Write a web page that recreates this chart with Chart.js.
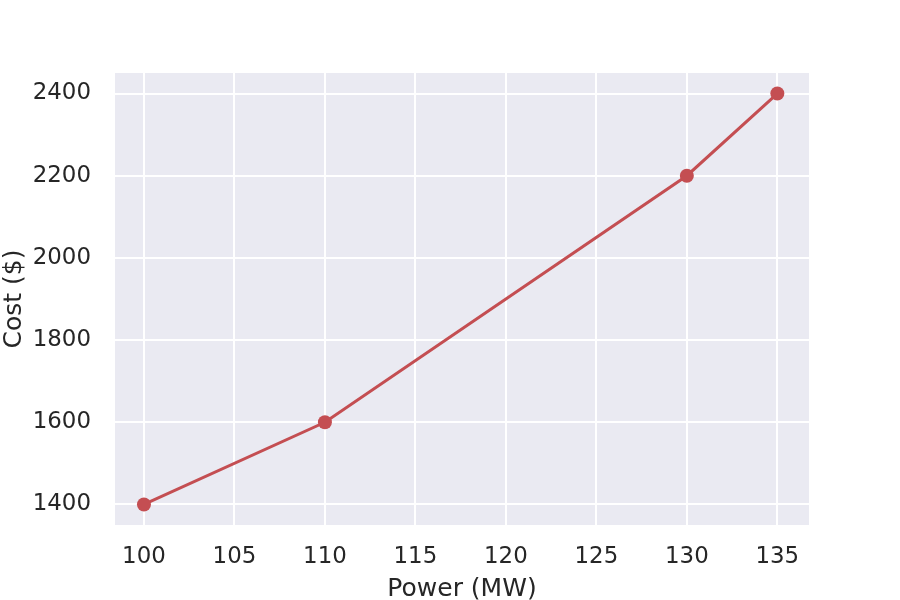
<!DOCTYPE html>
<html>
<head>
<meta charset="utf-8">
<script src="https://cdn.jsdelivr.net/npm/chart.js@4/dist/chart.umd.min.js"></script>
<style>
  body { margin: 0; background: #fff; }
  #chart { display: block; }
</style>
</head>
<body>
<canvas id="chart" width="900" height="600"></canvas>
<script>
// data
const power = [100, 110, 130, 135];
const cost = [1400, 1600, 2200, 2400];
const xTicks = [100, 105, 110, 115, 120, 125, 130, 135];
const yTicks = [1400, 1600, 1800, 2000, 2200, 2400];

const lineColor = '#C44E52';
const textColor = '#262626';

// grey panel behind the plot, seaborn darkgrid style
const panelBg = {
    id: 'panelBg',
    beforeDraw(chart) {
        const { ctx, chartArea: a } = chart;
        ctx.save();
        ctx.fillStyle = '#EAEAF2';
        ctx.fillRect(a.left, a.top, a.right - a.left, a.bottom - a.top);
        ctx.restore();
    }
};

const points = power.map((p, i) => ({ x: p, y: cost[i] }));

new Chart(document.getElementById('chart').getContext('2d'), {
    type: 'line',
    data: {
        datasets: [{
            data: points,
            borderColor: lineColor,
            backgroundColor: lineColor,
            borderWidth: 3,
            pointRadius: 7,
            pointBorderWidth: 0,
            pointBackgroundColor: lineColor,
            tension: 0
        }]
    },
    options: {
        responsive: false,
        animation: false,
        layout: { padding: { left: 0, right: 91, top: 73, bottom: 0 } },
        plugins: {
            legend: { display: false },
            tooltip: { enabled: false }
        },
        scales: {
            x: {
                type: 'linear',
                min: 98.4,
                max: 136.75,
                afterBuildTicks: s => { s.ticks = xTicks.map(v => ({ value: v })); },
                afterFit: s => { s.height = 75; },
                grid: { color: '#ffffff', lineWidth: 2, drawTicks: false },
                border: { display: false },
                ticks: {
                    color: textColor,
                    padding: 18,
                    maxRotation: 0,
                    callback: v => String(v),
                    font: { family: 'DejaVu Sans', size: 22.9 }
                },
                title: {
                    display: true,
                    text: 'Power (MW)',
                    color: textColor,
                    padding: { top: 0, bottom: -1.5 },
                    font: { family: 'DejaVu Sans', size: 25, lineHeight: 1 }
                }
            },
            y: {
                min: 1350,
                max: 2450,
                afterBuildTicks: s => { s.ticks = yTicks.map(v => ({ value: v })); },
                afterFit: s => { s.width = 115; },
                grid: { color: '#ffffff', lineWidth: 2, drawTicks: false },
                border: { display: false },
                ticks: {
                    color: textColor,
                    padding: 24,
                    callback: v => String(v),
                    font: { family: 'DejaVu Sans', size: 22.9 }
                },
                title: {
                    display: true,
                    text: 'Cost ($)',
                    color: textColor,
                    padding: { top: 1.5, bottom: 0 },
                    font: { family: 'DejaVu Sans', size: 25, lineHeight: 1 }
                }
            }
        }
    },
    plugins: [panelBg]
});
</script>
</body>
</html>
